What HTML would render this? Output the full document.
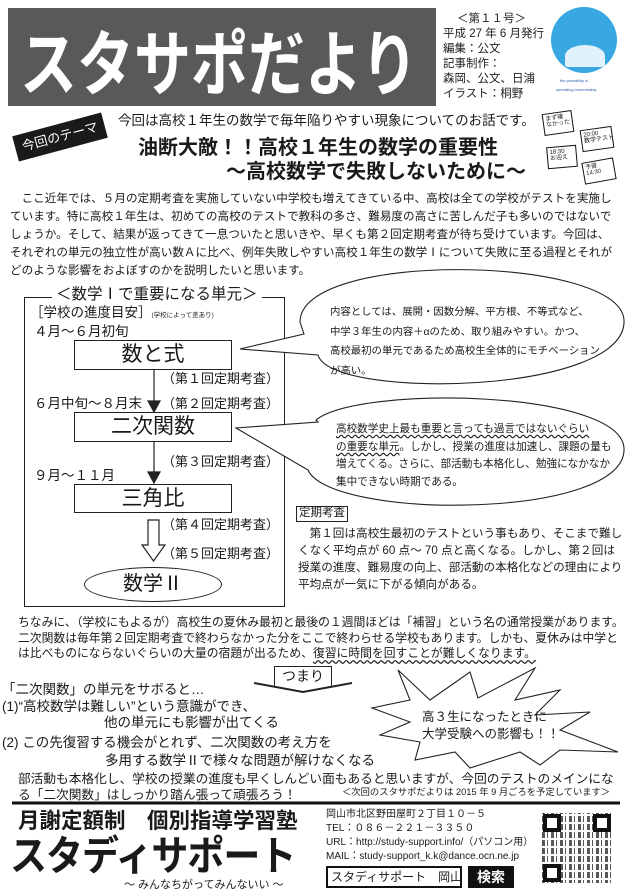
<!DOCTYPE html>
<html><head><meta charset="utf-8">
<style>
*{margin:0;padding:0;box-sizing:border-box}
body{width:627px;height:890px;position:relative;overflow:hidden;background:#fff;font-family:"Liberation Sans","Noto Sans CJK JP",sans-serif;color:#1a1a1a}
.a{position:absolute;white-space:nowrap;line-height:1}
.box{position:absolute;border:1.3px solid #222;background:#fff}
</style></head><body>

<div class="a" style="left:8px;top:8px;width:428px;height:98px;background:#595959"></div>
<div class="a" style="left:20px;top:22px;font-size:57px;font-weight:bold;color:#fff;letter-spacing:0;line-height:70px;transform:scaleY(1.25);transform-origin:0 0">スタサポだより</div>

<div class="a" style="left:443px;top:12px;font-size:11.5px;line-height:15px;color:#222">
<div style="padding-left:14px">＜第１１号＞</div>平成 27 年 6 月発行<br>編集：公文<br>記事制作：<br>森岡、公文、日浦<br>イラスト：桐野</div>

<div class="a" style="left:551px;top:7px;width:66px;height:66px;border-radius:50%;background:#3aa8e0"></div>
<div class="a" style="left:565px;top:45px;width:40px;height:22px;border-radius:50% 50% 10% 10%;background:#fff;opacity:.85"></div>
<div class="a" style="left:560px;top:79px;font-size:4px;color:#2a5fb0">the possibility is</div>
<div class="a" style="left:556px;top:88px;font-size:4px;color:#2a5fb0">spreading innumerably</div>

<div class="a" style="left:14px;top:124px;width:92px;height:26px;background:#1a1a1a;transform:rotate(-15deg);color:#fff;font-size:13px;line-height:26px;text-align:center">今回のテーマ</div>

<div class="a" style="left:118px;top:114px;font-size:13.5px">今回は高校１年生の数学で毎年陥りやすい現象についてのお話です。</div>
<div class="a" style="left:138px;top:138px;font-size:20px;font-weight:bold">油断大敵！！高校１年生の数学の重要性</div>
<div class="a" style="left:226px;top:162px;font-size:20px;font-weight:bold">～高校数学で失敗しないために～</div>

<div class="a" style="left:543px;top:112px;width:30px;height:22px;border:1.5px solid #111;transform:rotate(-8deg);font-size:6px;padding:2px">まず確<br>なかった</div>
<div class="a" style="left:581px;top:128px;width:32px;height:22px;border:1.5px solid #111;transform:rotate(-8deg);font-size:6px;padding:2px">20:00<br>数学テスト</div>
<div class="a" style="left:547px;top:146px;width:30px;height:22px;border:1.5px solid #111;transform:rotate(-5deg);font-size:6px;padding:2px">18:30<br>お迎え</div>
<div class="a" style="left:583px;top:160px;width:32px;height:22px;border:1.5px solid #111;transform:rotate(-10deg);font-size:6px;padding:2px">予習<br>14:30</div>

<div class="a" style="left:10px;top:190px;font-size:11.6px;line-height:18px">　ここ近年では、５月の定期考査を実施していない中学校も増えてきている中、高校は全ての学校がテストを実施し<br>ています。特に高校１年生は、初めての高校のテストで教科の多さ、難易度の高さに苦しんだ子も多いのではないで<br>しょうか。そして、結果が返ってきて一息ついたと思いきや、早くも第２回定期考査が待ち受けています。今回は、<br>それぞれの単元の独立性が高い数Ａに比べ、例年失敗しやすい高校１年生の数学Ⅰについて失敗に至る過程とそれが<br>どのような影響をおよぼすのかを説明したいと思います。</div>

<!-- Left diagram -->
<div class="box" style="left:24px;top:297px;width:261px;height:310px"></div>
<div class="a" style="left:52px;top:287px;font-size:15.5px;background:#fff;padding:0 4px">＜数学Ⅰで重要になる単元＞</div>
<div class="a" style="left:30px;top:306px;font-size:13.5px">［学校の進度目安］<span style="font-size:6.5px">(学校によって差あり)</span></div>
<div class="a" style="left:34px;top:325px;font-size:13.5px">４月～６月初旬</div>
<div class="box" style="left:74px;top:340px;width:158px;height:30px;font-size:21px;text-align:center;line-height:28px">数と式</div>
<div class="a" style="left:162px;top:372px;font-size:13px">（第１回定期考査）</div>
<div class="a" style="left:34px;top:397px;font-size:13.5px">６月中旬～８月末</div>
<div class="a" style="left:162px;top:397px;font-size:13px">（第２回定期考査）</div>
<div class="box" style="left:74px;top:412px;width:158px;height:30px;font-size:21px;text-align:center;line-height:28px">二次関数</div>
<div class="a" style="left:162px;top:455px;font-size:13px">（第３回定期考査）</div>
<div class="a" style="left:34px;top:469px;font-size:13.5px">９月～１１月</div>
<div class="box" style="left:74px;top:484px;width:158px;height:29px;font-size:21px;text-align:center;line-height:27px">三角比</div>
<div class="a" style="left:162px;top:518px;font-size:13px">（第４回定期考査）</div>
<div class="a" style="left:162px;top:547px;font-size:13px">（第５回定期考査）</div>
<div class="a" style="left:84px;top:567px;width:138px;height:35px;border:1.3px solid #222;border-radius:50%;font-size:20px;text-align:center;line-height:33px">数学Ⅱ</div>

<svg class="a" style="left:0;top:0" width="627" height="890">
<g stroke="#222" stroke-width="1.2" fill="#222">
<line x1="154" y1="370" x2="154" y2="403"/><polygon points="148,401 160,401 154,412"/>
<line x1="154" y1="442" x2="154" y2="474"/><polygon points="148,472 160,472 154,483"/>
</g>
<polygon points="148,520 159,520 159,545 165,545 153.5,561 142,545 148,545" fill="#fff" stroke="#222" stroke-width="1.2"/>
<path d="M300,322 C300,250 620,255 624,320 C628,395 330,400 318,355 L240,349 L304,334 Z" fill="#fff" stroke="#222" stroke-width="1.1"/>
<path d="M316,420 C360,385 620,390 624,448 C628,520 330,520 308,470 L236,428 L318,422 Z" fill="#fff" stroke="#222" stroke-width="1.1"/>
<polyline points="254,683 303,692 352,683" fill="none" stroke="#222" stroke-width="2"/>
<polygon points="398,670 430,700 470,672 478,698 535,668 515,700 560,690 535,715 590,712 560,730 618,752 560,750 540,765 520,752 470,768 455,752 415,760 420,742 380,735 410,722 372,708 410,700" fill="#fff" stroke="#222" stroke-width="1.1"/>
<line x1="12" y1="803" x2="620" y2="803" stroke="#111" stroke-width="3"/>
</svg>

<div class="a" style="left:330px;top:303px;font-size:10.4px;line-height:19.5px">内容としては、展開・因数分解、平方根、不等式など、<br>中学３年生の内容＋αのため、取り組みやすい。かつ、<br>高校最初の単元であるため高校生全体的にモチベーション<br>が高い。</div>
<div class="a" style="left:336px;top:421px;font-size:10.6px;line-height:17.7px"><span style="text-decoration:underline wavy;text-underline-offset:2px">高校数学史上最も重要と言っても過言ではないぐらい</span><br><span style="text-decoration:underline wavy;text-underline-offset:2px">の重要な単元</span>。しかし、授業の進度は加速し、課題の量も<br>増えてくる。さらに、部活動も本格化し、勉強になかなか<br>集中できない時期である。</div>

<div class="a" style="left:296px;top:506px;border:1.2px solid #222;font-size:11.5px;padding:1px 2px">定期考査</div>
<div class="a" style="left:298px;top:525px;font-size:11.6px;line-height:17px">　第１回は高校生最初のテストという事もあり、そこまで難し<br>くなく平均点が 60 点～ 70 点と高くなる。しかし、第２回は<br>授業の進度、難易度の向上、部活動の本格化などの理由により<br>平均点が一気に下がる傾向がある。</div>

<div class="a" style="left:18px;top:615px;font-size:11.8px;line-height:15.7px">ちなみに、（学校にもよるが）高校生の夏休み最初と最後の１週間ほどは「補習」という名の通常授業があります。<br>二次関数は毎年第２回定期考査で終わらなかった分をここで終わらせる学校もあります。しかも、夏休みは中学と<br>は比べものにならないぐらいの大量の宿題が出るため、<span style="text-decoration:underline wavy;text-underline-offset:2px">復習に時間を回すことが難しくなります。</span></div>

<div class="a" style="left:274px;top:666px;width:58px;height:20px;border:1.5px solid #222;border-bottom:none;background:#fff;font-size:14px;text-align:center;line-height:18px">つまり</div>

<div class="a" style="left:2px;top:682px;font-size:13.5px;line-height:16.5px">「二次関数」の単元をサボると…<br>(1)“高校数学は難しい”という意識ができ、<br><span style="padding-left:102px">他の単元にも影響が出てくる</span><br><span style="line-height:21px">(2) この先復習する機会がとれず、二次関数の考え方を</span><br><span style="padding-left:103px">多用する数学Ⅱで様々な問題が解けなくなる</span></div>
<div class="a" style="left:422px;top:709px;font-size:12.5px;line-height:17px">高３生になったときに<br>大学受験への影響も！！</div>

<div class="a" style="left:18px;top:771px;font-size:12.7px;line-height:16px">部活動も本格化し、学校の授業の進度も早くしんどい面もあると思いますが、今回のテストのメインにな<br>る「二次関数」はしっかり踏ん張って頑張ろう！</div>
<div class="a" style="left:342px;top:788px;font-size:9.3px">＜次回のスタサポだよりは 2015 年 9 月ごろを予定しています＞</div>

<div class="a" style="left:18px;top:811px;font-size:21.5px;font-weight:bold">月謝定額制　個別指導学習塾</div>
<div class="a" style="left:10px;top:836px;font-size:37px;font-weight:bold;transform:scaleY(1.1);transform-origin:0 0;letter-spacing:-1px">スタディサポート</div>
<div class="a" style="left:124px;top:880px;font-size:11px">～ みんなちがってみんないい ～</div>

<div class="a" style="left:326px;top:808px;font-size:10px;line-height:14px">岡山市北区野田屋町２丁目１０－５<br>TEL：０８６－２２１－３３５０<br>URL：http://study-support.info/（パソコン用）<br>MAIL：study-support_k.k@dance.ocn.ne.jp</div>
<div class="a" style="left:326px;top:866px;width:136px;height:22px;border:2px solid #111;font-size:12px;line-height:18px;padding-left:3px">スタディサポート　岡山</div>
<div class="a" style="left:468px;top:866px;width:46px;height:22px;background:#111;color:#fff;font-size:14px;font-weight:bold;line-height:22px;text-align:center">検索</div>

<div class="a" style="left:542px;top:813px;width:70px;height:70px;background:repeating-linear-gradient(90deg,#222 0 3px,#fff 3px 5px,#222 5px 6px,#fff 6px 9px),#fff;opacity:.75"></div>
<div class="a" style="left:542px;top:813px;width:70px;height:70px;background:repeating-linear-gradient(0deg,transparent 0 3px,#fff 3px 5px,transparent 5px 8px)"></div>
<div class="a" style="left:543px;top:814px;width:18px;height:18px;border:4px solid #111;background:#fff"></div>
<div class="a" style="left:593px;top:814px;width:18px;height:18px;border:4px solid #111;background:#fff"></div>
<div class="a" style="left:543px;top:864px;width:18px;height:18px;border:4px solid #111;background:#fff"></div>

</body></html>
